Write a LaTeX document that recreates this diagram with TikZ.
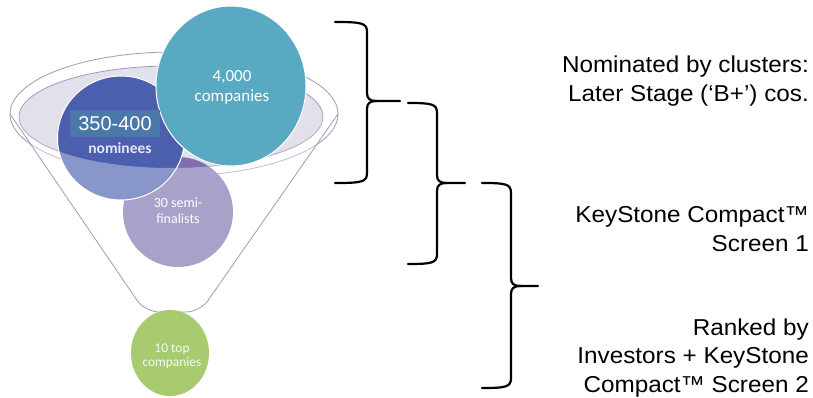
\documentclass[tikz,border=0pt]{standalone}
\usepackage{fontspec}
\setmainfont{Liberation Sans}
\newfontfamily\calfont{Carlito}
\newfontfamily\lblfont[FakeStretch=1.055]{Liberation Sans}
\usepackage{tikz}
\usetikzlibrary{shapes.geometric}
\definecolor{rimline}{HTML}{9E9BB8}
\definecolor{rimfill}{HTML}{E2E1EB}
\definecolor{tealc}{HTML}{5AA9C3}
\definecolor{navyc}{HTML}{4B5FAE}
\definecolor{hilite}{HTML}{4A78A9}
\definecolor{lavc}{HTML}{7D6FB0}
\definecolor{greenc}{HTML}{A7CB6E}

\begin{document}
\begin{tikzpicture}[x=1pt,y=-1pt,
    rim/.style={draw=rimline,line width=0.8pt},
    disc/.style={ellipse,inner sep=0pt},
    intxt/.style={text=white,align=center,inner sep=0pt},
    bracket/.style={line width=2.2pt,line cap=round},
    lbl/.style={anchor=east,align=right,inner sep=0pt,font=\lblfont\fontsize{23}{28.5}\selectfont}]
	\useasboundingbox (0,0) rectangle (813,398);
	% funnel rim
	\draw[rim,fill=white] (174,114) ellipse [x radius=164pt,y radius=62pt];
	\draw[rim,fill=rimfill] (171,117) ellipse [x radius=152pt,y radius=51pt];
	% circles inside the funnel
	\node[disc,fill=lavc,minimum width=110pt,minimum height=110pt] (semi) at (178,212) {};
	\node[disc,fill=navyc,draw=white,line width=1pt,minimum width=127pt,minimum height=124pt] (nom) at (121,138) {};
	% funnel body, seen through
	\begin{scope}
		\clip (10,114) -- (145,312) -- (200,312) -- (338,114) -- cycle;
		\fill[white,opacity=0.35,even odd rule] (10,114) -- (145,312) -- (200,312) -- (338,114) -- cycle
			(171,117) ellipse [x radius=152pt,y radius=51pt];
	\end{scope}
	\draw[rim,rounded corners=14pt] (10,114) -- (145,312) -- (200,312) -- (338,114);
	\node[disc,fill=tealc,draw=white,line width=1pt,minimum width=150pt,minimum height=160pt] (cos) at (231,86) {};
	\node[disc,fill=greenc,minimum width=78pt,minimum height=86pt] (top) at (170,353) {};
	% circle texts
	\node[intxt,font=\calfont\fontsize{17}{20}\selectfont] (costxt) at (232,87) {4,000\\companies};
	\node[fill=hilite,inner sep=0pt,minimum width=90pt,minimum height=27pt] (hl) at (115,123.5) {};
	\node[intxt,font=\fontsize{20}{22}\selectfont] (numtxt) at (hl) {350-400};
	\node[intxt,text=white!85!navyc,font=\calfont\bfseries\fontsize{15.5}{18}\selectfont] (nomtxt) at (120,148) {nominees};
	\node[intxt,font=\calfont\fontsize{14}{16}\selectfont] (semitxt) at (178,211) {30 semi-\\finalists};
	\node[intxt,text=white!90!greenc,font=\calfont\fontsize{13.4}{14.5}\selectfont] (toptxt) at (172,356) {10 top\\companies};
	% brackets
	\foreach \xa/\xv/\ya/\yt/\yb/\xt in {335/367/22/101/183/400, 408/437/103/183/264/465, 482/511/183/286/388/538}{
		\draw[bracket] (\xa,\ya) .. controls (\xv-5,\ya) and (\xv,\ya+1) .. (\xv,\ya+10) -- (\xv,\yt-8)
			.. controls (\xv,\yt-2) and (\xv+3,\yt) .. (\xv+10,\yt) -- (\xt,\yt);
		\draw[bracket] (\xv+10,\yt) .. controls (\xv+3,\yt) and (\xv,\yt+2) .. (\xv,\yt+8) -- (\xv,\yb-10)
			.. controls (\xv,\yb-1) and (\xv-5,\yb) .. (\xa,\yb);
	}
	% stage labels
	\node[lbl] (nomlbl) at (809,81) {Nominated by clusters:\\Later Stage (‘B+’) cos.};
	\node[lbl] (kslbl) at (809,229) {KeyStone Compact™\\Screen 1};
	\node[lbl] (rklbl) at (809,358) {Ranked by\\Investors + KeyStone\\Compact™ Screen 2};
\end{tikzpicture}
\end{document}
